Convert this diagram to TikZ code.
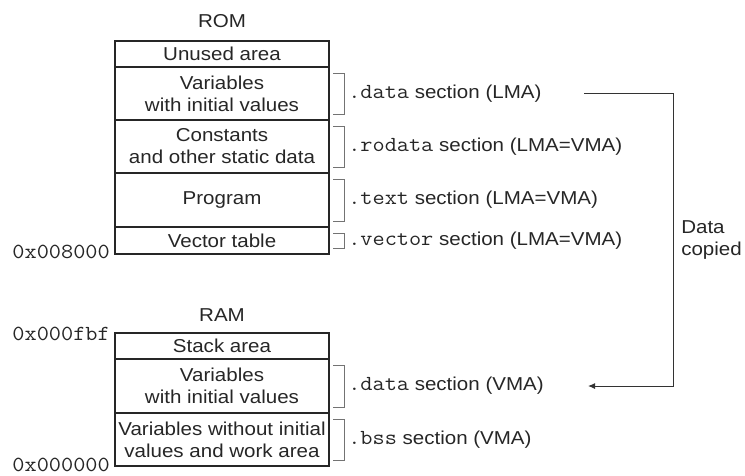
\documentclass[tikz,border=0pt]{standalone}
\usepackage{fontspec}
\setmainfont{Liberation Sans}[FakeStretch=1.1]
\setmonofont{Latin Modern Mono}[Scale=1.15,FakeStretch=1.1]
\usetikzlibrary{positioning,calc,arrows.meta}
\newdimen\pxu \pxu=0.75pt

\begin{document}
\begin{tikzpicture}[x=0.75pt,y=-0.75pt,
  every node/.style={font=\fontsize{14pt}{16.5pt}\selectfont, text=black!85, inner sep=0pt},
  cell/.style={draw=black!85, line width=1.2\pxu, minimum width=214\pxu, outer sep=0pt, align=center},
  brk/.style={draw=black!55, line width=0.9\pxu},
  sec/.style={anchor=west},
  addr/.style={font=\ttfamily\fontsize{14pt}{16.5pt}\selectfont},
  copyline/.style={draw=black!80, line width=0.75pt, -{Latex[length=5.25pt,width=4.5pt]}}]
\useasboundingbox (0,0) rectangle (745,475);

% ROM
\node[cell, minimum height=26\pxu, anchor=north] (romfree) at (222,41) {Unused area};
\node[cell, minimum height=53\pxu, below=0pt of romfree] (romdata) {Variables\\with initial values};
\node[cell, minimum height=53\pxu, below=0pt of romdata] (romconst) {Constants\\and other static data};
\node[cell, minimum height=54\pxu, below=0pt of romconst] (romprog) {Program};
\node[cell, minimum height=27\pxu, below=0pt of romprog] (romvec) {Vector table};
\node[above=13\pxu of romfree] (romtitle) {ROM};

% RAM
\node[cell, minimum height=26\pxu, anchor=north] (ramstack) at (222,333) {Stack area};
\node[cell, minimum height=54\pxu, below=0pt of ramstack] (ramdata) {Variables\\with initial values};
\node[cell, minimum height=53\pxu, below=0pt of ramdata] (ramwork) {Variables without initial\\values and work area};
\node[above=11\pxu of ramstack] (ramtitle) {RAM};

% brackets
\foreach \c in {romdata,romconst,romprog,romvec,ramdata,ramwork}
  \draw[brk] ($(\c.north east)+(4,6)$) -- ++(11,0) |- ($(\c.south east)+(4,-6)$);

% section names
\node[sec, right=19\pxu of romdata] (lmadata) {\texttt{.data} section (LMA)};
\node[sec, right=19\pxu of romconst] (lmarodata) {\texttt{.rodata} section (LMA=VMA)};
\node[sec, right=19\pxu of romprog] (lmatext) {\texttt{.text} section (LMA=VMA)};
\node[sec, right=19\pxu of romvec] (lmavec) {\texttt{.vector} section (LMA=VMA)};
\node[sec, right=19\pxu of ramdata] (vmadata) {\texttt{.data} section (VMA)};
\node[sec, right=19\pxu of ramwork] (vmabss) {\texttt{.bss} section (VMA)};

% addresses
\node[addr, anchor=base east] (adrom) at ($(romvec.south west)+(-5,4)$) {0x008000};
\node[addr, anchor=base east] (adtop) at ($(ramstack.north west)+(-5,7)$) {0x000fbf};
\node[addr, anchor=base east] (adbot) at ($(ramwork.south west)+(-5,5)$) {0x000000};

% copy
\coordinate (cpA) at (lmadata -| 584,0);
\coordinate (cpB) at (lmadata -| 673,0);
\coordinate (cpC) at (vmadata -| 588,0);
\draw[copyline] (cpA) -- (cpB) |- (cpC);
\node[anchor=west, align=left] (copied) at (681,240) {Data\\copied};
\end{tikzpicture}
\end{document}
